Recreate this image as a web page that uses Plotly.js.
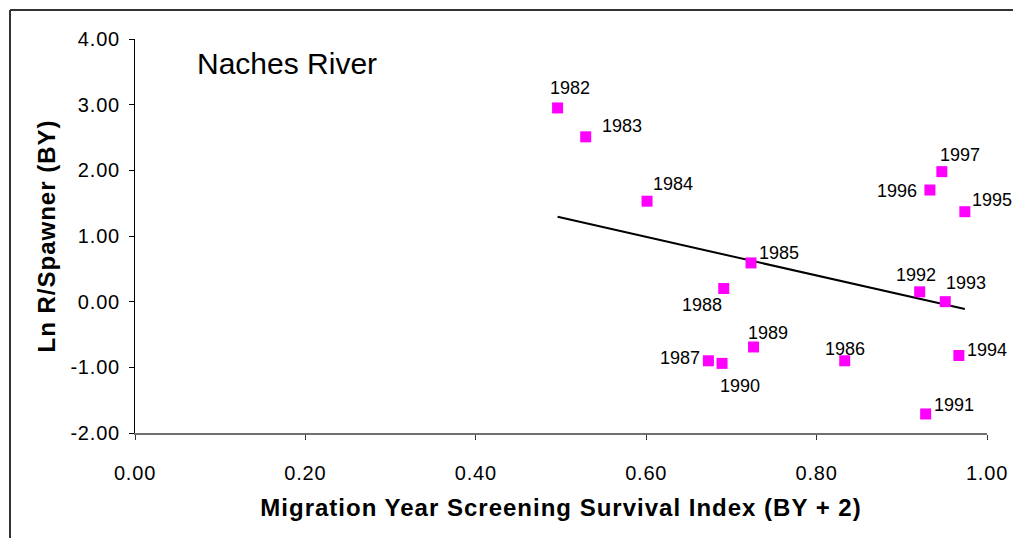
<!DOCTYPE html>
<html>
<head>
<meta charset="utf-8">
<script src="https://cdn.plot.ly/plotly-3.0.1.min.js"></script>
<style>
  html, body { margin: 0; padding: 0; background: #fff; }
  #chart { width: 1013px; height: 538px; }
  .js-plotly-plot .xtitle, .js-plotly-plot .ytitle { letter-spacing: 1px; }
  .js-plotly-plot .xtick text, .js-plotly-plot .ytick text { letter-spacing: 0.8px; }
</style>
</head>
<body>
<div id="chart"></div>
<script>
// ---- data ----
const years = [1982, 1983, 1984, 1985, 1986, 1987, 1988, 1989, 1990, 1991, 1992, 1993, 1994, 1995, 1996, 1997];
const survivalIndex = [0.496, 0.529, 0.601, 0.723, 0.833, 0.673, 0.691, 0.726, 0.689, 0.928, 0.921, 0.951, 0.967, 0.974, 0.933, 0.947];
const lnRPerSpawner = [2.95, 2.51, 1.53, 0.59, -0.90, -0.90, 0.20, -0.69, -0.94, -1.71, 0.15, 0.00, -0.82, 1.37, 1.70, 1.98];
const xTickVals = [0, 0.2, 0.4, 0.6, 0.8, 1.0];
const yTickVals = [-2, -1, 0, 1, 2, 3, 4];
const chartTitle = 'Naches River';
const xTitle = 'Migration Year Screening Survival Index (BY + 2)';
const yTitle = 'Ln R/Spawner (BY)';

// ---- label placement (pixel offsets, styling only) ----
const labelShiftX = [12, 36, 26, 28, 0, -28, -22, 14, 18, 28, -4, 21, 28, 27, -33, 18];
const labelShiftY = [20, 11, 17, 10, 12, 3, -16, 14, -23, 9, 17, 19, 6, 12, -1, 17];

// ---- least-squares trendline ----
const n = survivalIndex.length;
const mx = survivalIndex.reduce((a, b) => a + b, 0) / n;
const my = lnRPerSpawner.reduce((a, b) => a + b, 0) / n;
let sxy = 0, sxx = 0;
for (let i = 0; i < n; i++) {
  sxy += (survivalIndex[i] - mx) * (lnRPerSpawner[i] - my);
  sxx += (survivalIndex[i] - mx) ** 2;
}
const slope = sxy / sxx;
const intercept = my - slope * mx;
const xMin = Math.min(...survivalIndex), xMax = Math.max(...survivalIndex);
const trendX = [xMin, xMax];
const trendY = trendX.map(x => intercept + slope * x);

const FONT = 'Liberation Sans, Arial, sans-serif';

const traces = [
  {
    x: trendX, y: trendY, mode: 'lines', type: 'scatter',
    line: { color: '#000', width: 2 }, hoverinfo: 'skip', showlegend: false
  },
  {
    x: survivalIndex, y: lnRPerSpawner, mode: 'markers', type: 'scatter',
    marker: { symbol: 'square', size: 11, color: '#FF00FF' },
    text: years.map(String), showlegend: false
  }
];

const annotations = years.map((yr, i) => ({
  x: survivalIndex[i], y: lnRPerSpawner[i], xref: 'x', yref: 'y',
  text: String(yr), showarrow: false,
  xshift: labelShiftX[i], yshift: labelShiftY[i],
  font: { family: FONT, size: 18, color: '#000' }
}));
annotations.push({
  xref: 'paper', yref: 'paper', x: 0.178, y: 0.939,
  xanchor: 'center', yanchor: 'middle', showarrow: false,
  text: chartTitle, font: { family: FONT, size: 30, color: '#000' }
});

// frame (top + left edges)
const fx = (10 - 135) / 852, fy = (433 - 10) / 394;
const shapes = [
  { type: 'line', xref: 'paper', yref: 'paper', x0: fx, x1: 1.1, y0: fy, y1: fy, line: { color: '#333', width: 2 } },
  { type: 'line', xref: 'paper', yref: 'paper', x0: fx, x1: fx, y0: fy, y1: -0.4, line: { color: '#333', width: 2 } }
];

const layout = {
  width: 1013, height: 538,
  margin: { l: 135, r: 26, t: 39, b: 105 },
  paper_bgcolor: '#fff', plot_bgcolor: '#fff',
  font: { family: FONT, color: '#000' },
  showlegend: false,
  xaxis: {
    range: [0, 1], tickvals: xTickVals, ticktext: xTickVals.map(v => v.toFixed(2)),
    showgrid: false, zeroline: false, showline: true, linecolor: '#707070', linewidth: 1.5,
    ticks: 'outside', ticklen: 5, tickcolor: '#333', tickwidth: 1,
    tickfont: { family: FONT, size: 20, color: '#000' }, ticklabelstandoff: 16,
    title: { text: xTitle, font: { family: FONT, size: 24, color: '#000', weight: 'bold' }, standoff: 16 },
    automargin: false
  },
  yaxis: {
    range: [-2, 4], tickvals: yTickVals, ticktext: yTickVals.map(v => v.toFixed(2)),
    showgrid: false, zeroline: false, showline: true, linecolor: '#000', linewidth: 1,
    ticks: 'outside', ticklen: 5, tickcolor: '#000', tickwidth: 1,
    tickfont: { family: FONT, size: 20, color: '#000' }, ticklabelstandoff: 5,
    title: { text: yTitle, font: { family: FONT, size: 24, color: '#000', weight: 'bold' }, standoff: 12 },
    automargin: false
  },
  annotations: annotations,
  shapes: shapes
};

Plotly.newPlot('chart', traces, layout, { displayModeBar: false, staticPlot: true });
</script>
</body>
</html>
